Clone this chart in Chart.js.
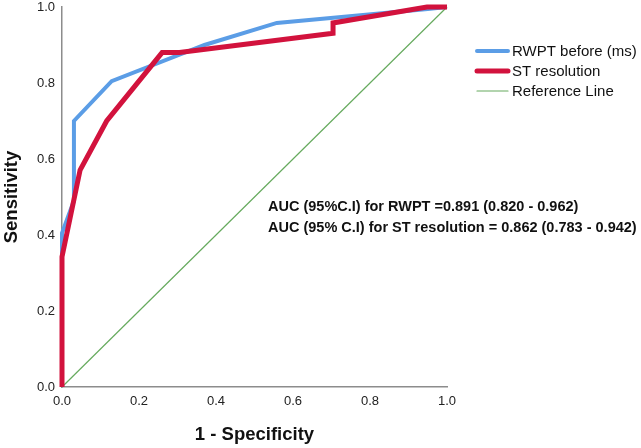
<!DOCTYPE html>
<html>
<head>
<meta charset="utf-8">
<script src="https://cdn.jsdelivr.net/npm/chart.js@4/dist/chart.umd.min.js"></script>
<style>
  html, body { margin: 0; padding: 0; background: #fff; }
  #wrap { width: 641px; height: 448px; position: relative; }
</style>
</head>
<body>
<div id="wrap"><canvas id="c" width="641" height="448"></canvas></div>
<script>
// ---- Data ----
const seriesNames = ["RWPT before (ms)", "ST resolution", "Reference Line"];

const rwptFpr = [0.000, 0.000, 0.031, 0.031, 0.129, 0.370, 0.558, 0.950, 1.000];
const rwptTpr = [0.000, 0.405, 0.490, 0.700, 0.805, 0.900, 0.958, 0.995, 1.000];

const stFpr = [0.000, 0.000, 0.047, 0.116, 0.260, 0.305, 0.704, 0.704, 0.948, 1.000];
const stTpr = [0.000, 0.343, 0.571, 0.700, 0.880, 0.880, 0.931, 0.958, 1.000, 1.000];

const refFpr = [0, 1];
const refTpr = [0, 1];

const tickValues = [0.0, 0.2, 0.4, 0.6, 0.8, 1.0];

const aucLines = [
  "AUC (95%C.I) for RWPT =0.891 (0.820 - 0.962)",
  "AUC (95% C.I) for ST resolution = 0.862 (0.783 - 0.942)"
];

const xTitle = "1 - Specificity";
const yTitle = "Sensitivity";

function toPoints(xs, ys) { return xs.map((x, i) => ({ x: x, y: ys[i] })); }

const colors = ["#5b9de6", "#d2123d", "#66aa5e"];
const widths = [4, 5, 1.2];

const FONT = "'Liberation Sans', Arial, Helvetica, sans-serif";

const overlayPlugin = {
  id: 'overlay',
  afterDraw(chart) {
    const ctx = chart.ctx;
    ctx.save();
    // legend
    const lx0 = 477, lx1 = 508, tx = 512;
    const ys = [51, 71, 91];
    chart.data.datasets.forEach((ds, i) => {
      ctx.strokeStyle = ds.borderColor;
      ctx.lineWidth = ds.borderWidth;
      ctx.lineCap = 'round';
      ctx.beginPath();
      ctx.moveTo(lx0, ys[i]);
      ctx.lineTo(lx1, ys[i]);
      ctx.stroke();
      ctx.fillStyle = '#111';
      ctx.font = "15px " + FONT;
      ctx.textBaseline = 'middle';
      ctx.textAlign = 'left';
      ctx.fillText(ds.label, tx, ys[i] + 1);
    });
    // AUC annotation
    ctx.fillStyle = '#111';
    ctx.font = "bold 14.5px " + FONT;
    ctx.textBaseline = 'middle';
    ctx.fillText(aucLines[0], 268, 207);
    ctx.fillText(aucLines[1], 268, 228);
    ctx.restore();
  }
};

new Chart(document.getElementById('c'), {
  type: 'scatter',
  data: {
    datasets: [
      { label: seriesNames[0], data: toPoints(rwptFpr, rwptTpr), borderColor: colors[0], backgroundColor: colors[0], borderWidth: widths[0], order: 2 },
      { label: seriesNames[1], data: toPoints(stFpr, stTpr), borderColor: colors[1], backgroundColor: colors[1], borderWidth: widths[1], order: 1 },
      { label: seriesNames[2], data: toPoints(refFpr, refTpr), borderColor: colors[2], backgroundColor: colors[2], borderWidth: widths[2], order: 3 }
    ].map(d => Object.assign(d, { showLine: true, pointRadius: 0, pointHoverRadius: 0, tension: 0, clip: false, borderJoinStyle: 'miter' }))
  },
  options: {
    responsive: false,
    animation: false,
    devicePixelRatio: 1,
    layout: { padding: { top: 0, right: 194, left: 0, bottom: 0 } },
    plugins: { legend: { display: false }, tooltip: { enabled: false } },
    scales: {
      x: {
        type: 'linear', min: 0, max: 1,
        afterBuildTicks(s) { s.ticks = tickValues.map(v => ({ value: v })); },
        afterFit(s) { s.height = 61; },
        grid: { display: false, drawTicks: false },
        border: { display: true, color: '#8c8c8c', width: 1.5 },
        ticks: { padding: 7, color: '#222', font: { family: FONT, size: 13 }, callback: v => Number(v).toFixed(1), maxRotation: 0 },
        title: { display: true, text: xTitle, color: '#111', font: { family: FONT, size: 18.5, weight: 'bold' }, padding: { top: 0, bottom: 2 } }
      },
      y: {
        type: 'linear', min: 0, max: 1,
        afterBuildTicks(s) { s.ticks = tickValues.map(v => ({ value: v })); },
        afterFit(s) { s.width = 62; s.paddingTop = 7; },
        grid: { display: false, drawTicks: false },
        border: { display: true, color: '#8c8c8c', width: 1.5 },
        ticks: { padding: 7, color: '#222', font: { family: FONT, size: 13 }, callback: v => Number(v).toFixed(1) },
        title: { display: true, text: yTitle, color: '#111', font: { family: FONT, size: 18.5, weight: 'bold' }, padding: { top: 1, bottom: 0 } }
      }
    }
  },
  plugins: [overlayPlugin]
});
</script>
</body>
</html>
